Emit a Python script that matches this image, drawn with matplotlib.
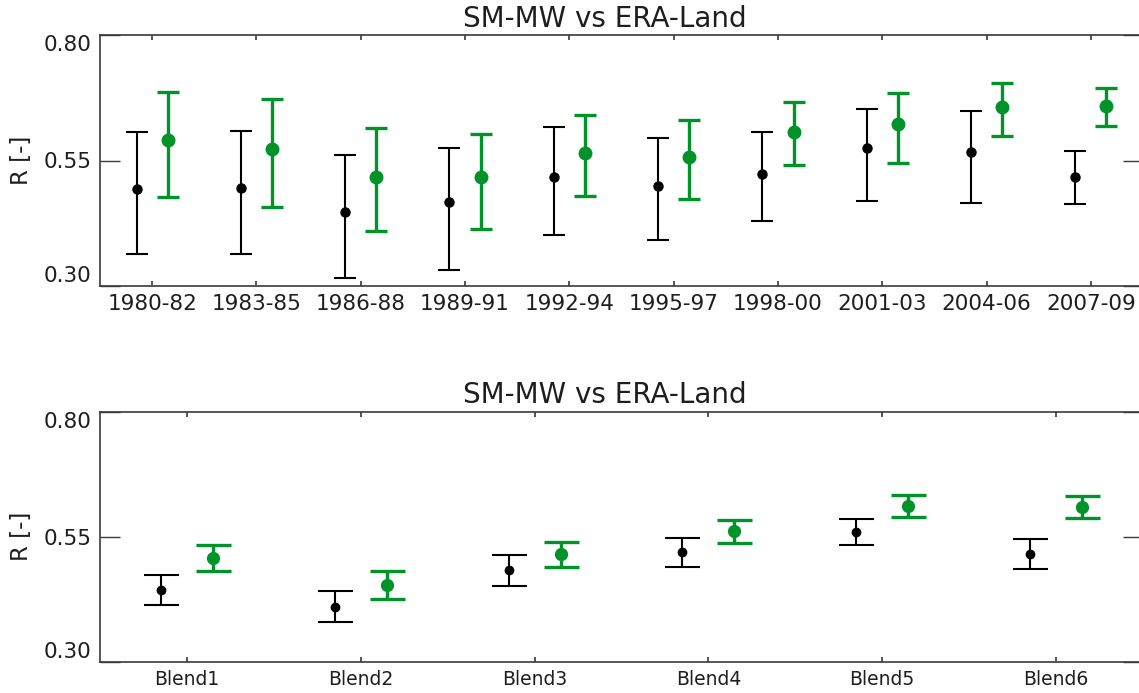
import matplotlib
matplotlib.use("Agg")
import matplotlib.pyplot as plt
import numpy as np

# ---- data ----
periods = ['1980-82', '1983-85', '1986-88', '1989-91', '1992-94',
           '1995-97', '1998-00', '2001-03', '2004-06', '2007-09']
top_black_mean = [0.493, 0.495, 0.447, 0.467, 0.518, 0.500, 0.524, 0.574, 0.567, 0.518]
top_black_hi   = [0.606, 0.609, 0.561, 0.575, 0.617, 0.594, 0.607, 0.653, 0.649, 0.568]
top_black_lo   = [0.363, 0.364, 0.315, 0.332, 0.402, 0.392, 0.429, 0.469, 0.465, 0.464]
top_green_mean = [0.591, 0.572, 0.518, 0.517, 0.565, 0.556, 0.607, 0.622, 0.656, 0.659]
top_green_hi   = [0.686, 0.672, 0.614, 0.603, 0.640, 0.631, 0.666, 0.684, 0.705, 0.695]
top_green_lo   = [0.477, 0.457, 0.409, 0.414, 0.479, 0.473, 0.541, 0.545, 0.599, 0.619]

blends = ['Blend1', 'Blend2', 'Blend3', 'Blend4', 'Blend5', 'Blend6']
bot_black_mean = [0.443, 0.410, 0.483, 0.519, 0.560, 0.516]
bot_black_hi   = [0.474, 0.441, 0.514, 0.547, 0.586, 0.545]
bot_black_lo   = [0.413, 0.379, 0.452, 0.489, 0.533, 0.485]
bot_green_mean = [0.507, 0.454, 0.516, 0.561, 0.612, 0.609]
bot_green_hi   = [0.533, 0.481, 0.539, 0.583, 0.634, 0.631]
bot_green_lo   = [0.482, 0.426, 0.489, 0.537, 0.590, 0.588]

title = 'SM-MW vs ERA-Land'
ylabel = 'R [-]'
yticks = [0.30, 0.55, 0.80]
yticklabels = ['0.30', '0.55', '0.80']

GREEN = '#009329'
SPINE = '#3a3a3a'
TEXT = '#1e1e1e'

plt.rcParams['font.family'] = ['DejaVu Sans']

fig = plt.figure(figsize=(11.39, 6.93), dpi=100)
W, H = 1139, 693


def make_ax(top_px, bot_px):
    left_px, right_px = 100, 1143
    return fig.add_axes([left_px / W, 1 - bot_px / H,
                         (right_px - left_px) / W, (bot_px - top_px) / H])


def draw(ax, cats, bm, bhi, blo, gm, ghi, glo, caps, ms_b, ms_g, xfs):
    x = np.arange(len(cats))
    bm, bhi, blo = map(np.asarray, (bm, bhi, blo))
    gm, ghi, glo = map(np.asarray, (gm, ghi, glo))
    ax.errorbar(x - 0.15, bm, yerr=[bm - blo, bhi - bm], fmt='o', color='black',
                ms=ms_b, elinewidth=1.5, capsize=caps, capthick=1.5)
    ax.errorbar(x + 0.15, gm, yerr=[gm - glo, ghi - gm], fmt='o', color=GREEN,
                ms=ms_g, elinewidth=2.4, capsize=caps, capthick=2.4)
    ax.set_xlim(-0.5, len(cats) - 0.5)
    ax.set_ylim(0.30, 0.80)
    ax.set_xticks(x)
    ax.set_xticklabels(cats, fontsize=xfs, color=TEXT)
    ax.set_yticks(yticks)
    ax.set_yticklabels(yticklabels, fontsize=15.5, color=TEXT)
    labs = ax.get_yticklabels()
    labs[0].set_va('bottom')
    labs[-1].set_va('top')
    ax.tick_params(axis='x', direction='in', length=3.5, width=1.2, color=SPINE,
                   top=True, bottom=True, pad=6)
    ax.tick_params(axis='y', direction='in', length=14.5, width=1.0, color=SPINE,
                   left=True, right=True, pad=6)
    for s in ax.spines.values():
        s.set_color(SPINE)
        s.set_linewidth(1.2)
    ax.set_ylabel(ylabel, fontsize=16.5, color=TEXT, labelpad=8)
    ax.text(0.484, 1.065, title, transform=ax.transAxes, ha='center', va='center',
            fontsize=20, color=TEXT)


ax1 = make_ax(35, 286)
draw(ax1, periods, top_black_mean, top_black_hi, top_black_lo,
     top_green_mean, top_green_hi, top_green_lo, caps=7.6, ms_b=6.5, ms_g=9, xfs=15.5)

ax2 = make_ax(411.7, 661.7)
draw(ax2, blends, bot_black_mean, bot_black_hi, bot_black_lo,
     bot_green_mean, bot_green_hi, bot_green_lo, caps=12.6, ms_b=6, ms_g=8.5, xfs=13.5)

fig.savefig('out.png', dpi=100)
